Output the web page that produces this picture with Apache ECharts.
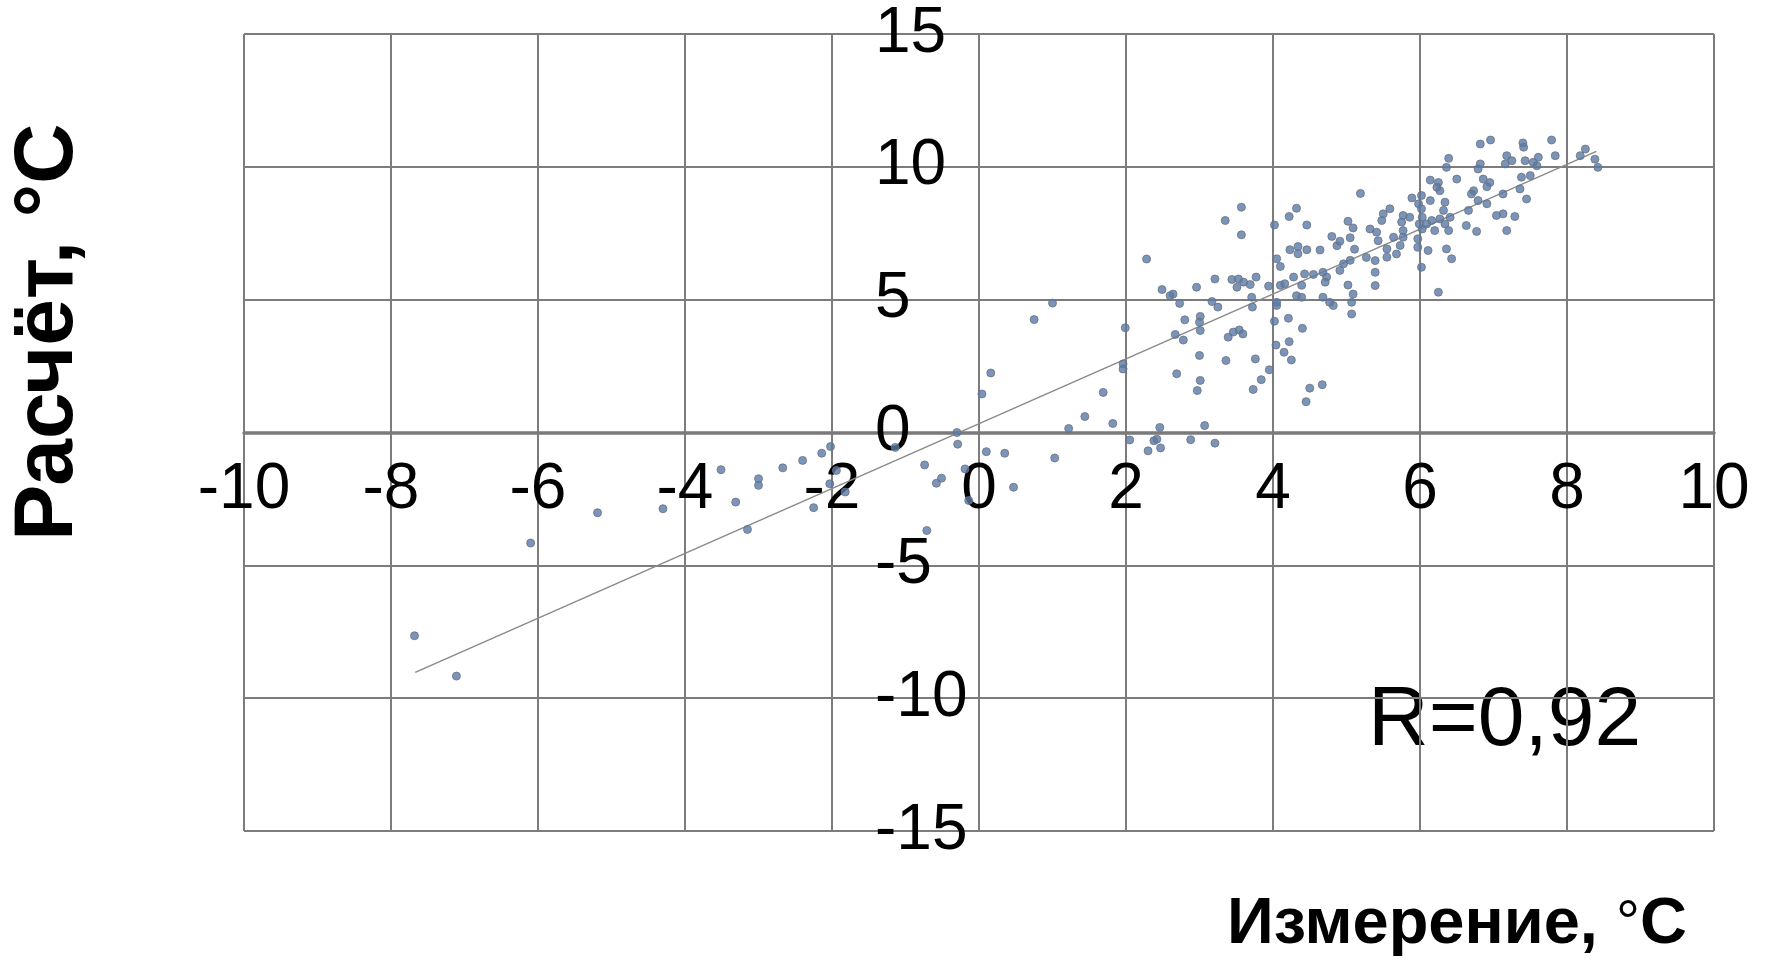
<!DOCTYPE html>
<html>
<head>
<meta charset="utf-8">
<title>Расчёт и измерение</title>
<script src="https://cdn.jsdelivr.net/npm/echarts@6/dist/echarts.min.js"></script>
<style>
  html, body { margin: 0; padding: 0; background: #ffffff; }
  #chart { width: 1768px; height: 960px; }
</style>
</head>
<body>
<div id="chart"></div>
<script>
// Measured (x) vs computed (y) temperatures, °C, as [x, y] pairs
const pointsNegative = [
  [-7.68, -7.65], [-7.11, -9.17], [-6.10, -4.16], [-5.19, -3.02], [-4.30, -2.87],
  [-3.51, -1.40], [-3.31, -2.62], [-3.15, -3.65], [-3.00, -1.74], [-3.00, -1.99],
  [-2.67, -1.33], [-2.40, -1.05], [-2.14, -0.78], [-2.02, -0.53], [-1.94, -1.43],
  [-2.03, -1.93], [-1.82, -2.24], [-2.25, -2.83], [-1.14, -0.56], [-0.74, -1.22],
  [-0.71, -3.69], [-0.58, -1.91], [-0.51, -1.72], [-0.30, 0.00], [-0.29, -0.44],
  [-0.19, -1.37], [-0.14, -2.56]
];

const pointsLow = [
  [0.04, 1.45], [0.16, 2.24], [0.10, -0.72], [0.35, -0.78], [0.47, -2.06],
  [0.75, 4.25], [1.00, 4.87], [1.03, -0.96], [1.22, 0.15], [1.44, 0.60],
  [1.69, 1.51], [1.82, 0.34], [1.96, 2.58], [1.96, 2.39], [1.99, 3.94],
  [2.05, -0.28], [2.38, -0.31], [2.42, -0.25], [2.30, -0.69], [2.47, -0.58],
  [2.46, 0.19], [2.88, -0.27], [3.07, 0.26], [3.21, -0.40], [2.28, 6.53],
  [2.49, 5.38], [2.60, 5.15], [2.64, 5.21], [2.73, 4.86], [2.67, 3.69],
  [2.78, 3.48], [2.80, 4.24], [2.69, 2.21]
];

const pointsMid = [
  [3.01, 4.37], [3.00, 4.15], [3.01, 3.84], [3.39, 3.59], [3.46, 3.78],
  [3.54, 3.86], [3.59, 3.71], [3.00, 2.90], [3.36, 2.71], [3.76, 2.77],
  [3.01, 1.96], [2.97, 1.58], [3.73, 1.62], [3.84, 1.99], [3.95, 2.36],
  [4.02, 4.19], [4.21, 4.30], [4.40, 3.92], [4.22, 3.42], [4.04, 3.29],
  [4.15, 3.02], [4.25, 2.73], [4.50, 1.67], [4.67, 1.80], [4.45, 1.16],
  [5.07, 4.46], [3.25, 4.72], [3.72, 4.72], [4.05, 4.78], [4.82, 4.78],
  [5.19, 9.00], [3.57, 8.48], [3.35, 7.98], [4.32, 8.44], [4.22, 8.13],
  [4.02, 7.81], [4.46, 7.81], [3.57, 7.44], [5.02, 7.95], [5.09, 7.70],
  [5.05, 7.33], [4.80, 7.38], [4.87, 7.03], [4.91, 7.20], [4.23, 6.88],
  [4.34, 7.00], [4.34, 6.73], [4.46, 6.88], [4.64, 6.87], [5.11, 6.90],
  [5.27, 6.59], [4.05, 6.54], [4.10, 6.25], [3.21, 5.78], [3.44, 5.76],
  [3.53, 5.78], [3.60, 5.66], [3.51, 5.47], [3.69, 5.57], [3.77, 5.85],
  [3.94, 5.51], [4.10, 5.54], [4.16, 5.60], [4.28, 5.85], [4.39, 5.54],
  [4.43, 5.97], [4.55, 5.95], [4.68, 6.03], [4.73, 5.85], [4.71, 5.66],
  [4.91, 6.10], [4.96, 6.35], [5.05, 6.48], [5.02, 5.55], [5.09, 5.21],
  [2.96, 5.47], [3.17, 4.93], [3.71, 5.09], [4.32, 5.15], [4.39, 5.09],
  [4.05, 4.90], [4.68, 5.09], [4.77, 4.90], [5.07, 4.90]
];

const pointsHigh = [
  [6.82, 10.86], [6.96, 11.01], [7.40, 10.90], [7.41, 10.74], [7.79, 11.01],
  [7.84, 10.42], [6.39, 10.32], [6.36, 9.98], [6.82, 10.11], [6.79, 9.92],
  [7.18, 10.42], [7.16, 10.11], [7.25, 10.23], [7.43, 10.23], [7.54, 10.17],
  [7.61, 10.36], [7.59, 10.04], [7.50, 9.67], [7.38, 9.61], [7.36, 9.17],
  [7.45, 8.79], [8.25, 10.67], [8.18, 10.42], [8.38, 10.29], [8.42, 9.98],
  [6.50, 9.54], [6.14, 9.50], [6.25, 9.41], [6.27, 9.10], [6.23, 9.23],
  [6.86, 9.54], [6.95, 9.41], [6.91, 9.25], [6.73, 9.10], [6.70, 8.98],
  [7.13, 8.98], [6.79, 8.73], [6.91, 8.61], [7.13, 8.23], [7.04, 8.17],
  [7.29, 8.13], [6.66, 8.36], [6.63, 7.79], [6.77, 7.57], [7.18, 7.60],
  [5.89, 8.83], [6.02, 8.92], [5.98, 8.61], [6.02, 8.42], [6.14, 8.73],
  [6.34, 8.67], [6.32, 8.36], [6.27, 8.04], [6.41, 8.10], [5.59, 8.42],
  [5.50, 8.23], [5.48, 7.98], [5.77, 8.17], [5.75, 7.92], [5.86, 8.10],
  [6.03, 8.10], [5.99, 7.85], [6.09, 7.85], [6.16, 7.98], [6.03, 7.66],
  [6.20, 7.60], [6.34, 7.85], [6.39, 7.60], [5.32, 7.66], [5.41, 7.54],
  [5.64, 7.35], [5.77, 7.60], [5.77, 7.35], [5.97, 7.29], [5.43, 7.22],
  [5.55, 6.91], [5.73, 7.04], [5.68, 6.72], [5.97, 6.97], [6.11, 6.85],
  [6.36, 6.91], [6.43, 6.54], [5.55, 6.60], [5.39, 6.47], [5.39, 6.03],
  [5.39, 5.53], [6.02, 6.22], [6.25, 5.28]
];

// Linear trend line end points
const trendLine = [[-7.67, -9.03], [8.40, 10.58]];

// Axis ranges and tick steps
const xRange = [-10, 10];
const xStep = 2;
const yRange = [-15, 15];
const yStep = 5;

// Text
const yTitle = 'Расчёт, °С';
const xTitleMain = 'Измерение, ';
const xTitleUnit = 'С';
const corrLabel = 'R=0,92';

const FONT = '"Liberation Sans", Arial, sans-serif';
const gridColor = '#7c7c7c';
const dotStyle = { color: '#5a7aa9', borderColor: '#6b727d', borderWidth: 1 };

// Plot box in pixels
const box = { left: 244, right: 54, top: 34, bottom: 129 };
const W = 1768, H = 960;
const plotW = W - box.left - box.right;
const plotH = H - box.top - box.bottom;

// Axes cross at zero: shift each axis from its edge to the zero position
const yAxisShift = -plotW * (0 - xRange[0]) / (xRange[1] - xRange[0]);
const xAxisShift = -plotH * (0 - yRange[0]) / (yRange[1] - yRange[0]);

const chart = echarts.init(document.getElementById('chart'), null, { renderer: 'canvas' });

const scatterSeries = [pointsNegative, pointsLow, pointsMid, pointsHigh].map(function (pts) {
  return {
    type: 'scatter',
    data: pts,
    symbol: 'circle',
    symbolSize: 8,
    itemStyle: dotStyle,
    z: 3,
    silent: true
  };
});

chart.setOption({
  backgroundColor: '#ffffff',
  animation: false,
  grid: { left: box.left, right: box.right, top: box.top, bottom: box.bottom, containLabel: false },
  xAxis: {
    type: 'value',
    min: xRange[0],
    max: xRange[1],
    interval: xStep,
    position: 'bottom',
    offset: xAxisShift,
    axisLine: { show: true, onZero: false, lineStyle: { color: '#7a7a7a', width: 3.5 } },
    axisTick: { show: false },
    axisLabel: {
      show: true,
      margin: 26,
      color: '#000000',
      fontFamily: FONT,
      fontSize: 64,
      showMinLabel: true,
      showMaxLabel: true
    },
    splitLine: { show: true, lineStyle: { color: gridColor, width: 2 } }
  },
  yAxis: {
    type: 'value',
    min: yRange[0],
    max: yRange[1],
    interval: yStep,
    position: 'left',
    offset: yAxisShift,
    axisLine: { show: true, onZero: false, lineStyle: { color: gridColor, width: 2 } },
    axisTick: { show: false },
    axisLabel: {
      show: true,
      margin: 104,
      align: 'left',
      color: '#000000',
      fontFamily: FONT,
      fontSize: 64,
      showMinLabel: true,
      showMaxLabel: true
    },
    splitLine: { show: true, lineStyle: { color: gridColor, width: 2 } }
  },
  series: [
    {
      type: 'line',
      data: trendLine,
      symbol: 'none',
      lineStyle: { color: '#8a8a8a', width: 1.5 },
      z: 2,
      silent: true
    }
  ].concat(scatterSeries),
  graphic: [
    {
      type: 'text',
      x: 49,
      y: 332,
      rotation: Math.PI / 2,
      style: {
        text: yTitle,
        font: 'bold 84px ' + FONT,
        fill: '#000000',
        align: 'center',
        verticalAlign: 'middle'
      }
    },
    {
      type: 'text',
      x: 1227,
      y: 925,
      style: {
        text: '{b|' + xTitleMain + '}{d|°}{b|' + xTitleUnit + '}',
        fill: '#000000',
        align: 'left',
        verticalAlign: 'middle',
        rich: {
          b: { font: 'bold 65px ' + FONT, fill: '#000000' },
          d: { font: '60px ' + FONT, fill: '#000000' }
        }
      }
    },
    {
      type: 'text',
      x: 1368,
      y: 722,
      style: {
        text: corrLabel,
        font: '84px ' + FONT,
        fill: '#000000',
        align: 'left',
        verticalAlign: 'middle'
      }
    }
  ]
});
</script>
</body>
</html>
